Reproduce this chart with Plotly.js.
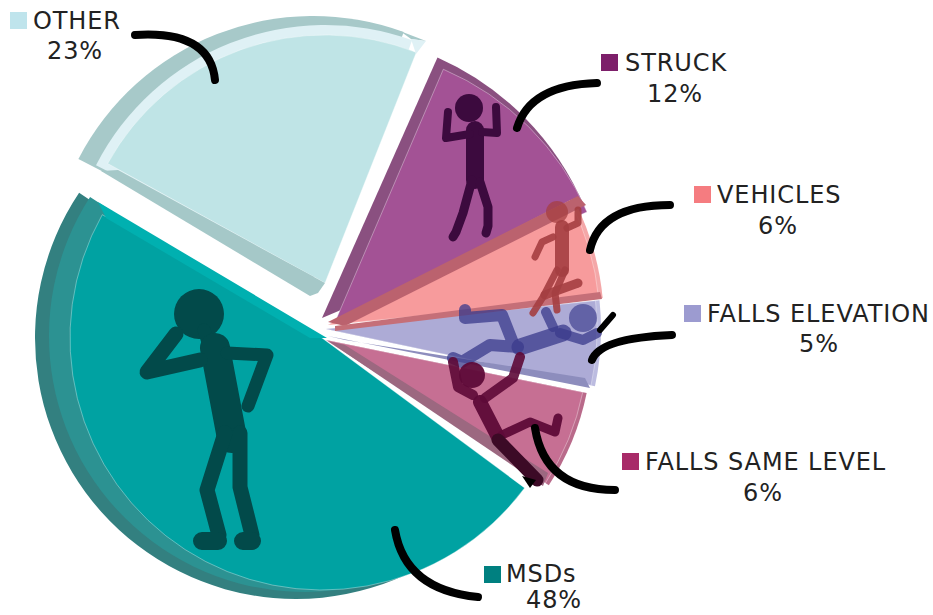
<!DOCTYPE html>
<html><head><meta charset="utf-8">
<script src="https://cdn.plot.ly/plotly-3.0.0.min.js"></script>
<style>
html,body{margin:0;padding:0;width:933px;height:615px;overflow:hidden;background:#fff}
.shapelayer path{stroke-linejoin:round;stroke-linecap:round}
.annotation-text{letter-spacing:0.9px}
</style></head><body><div id="chart"></div>
<script>
const categories=['STRUCK','VEHICLES','FALLS ELEVATION','FALLS SAME LEVEL','MSDs','OTHER'];
const shares=[12,6,5,6,48,23];
const pctLabels=['12%','6%','5%','6%','48%','23%'];
const faceColors=['#a35295','#f79b9c','#adabd6','#c66f93','#00a2a2','#bfe4e6'];
const bandColors=['#a9649c','#f4a7a8','#bcbce0','#b96a8a','#2c9292','#dff1f5'];
const rimColors=['#8a5080','#c97b7d','#9a9acb','#a0607c','#338080','#a7c9c9'];
const swatchColors=['#7d1f6a','#f57c80','#9c9bd0','#a82a68','#008080','#bfe4ec'];

const W=933,H=615;
const px=x=>x/W, py=y=>1-y/H;
const CLEAR='rgba(0,0,0,0)';
// one pie layer that shows a single slice: its apex, radius and start bearing set the false-3D view
function slice(i,color,cx,cy,r,start,edge){
  const before=shares.slice(0,i).reduce((a,b)=>a+b,0)*3.6;
  const rot=((start-before)%360+360)%360;
  return {type:'pie',labels:categories,values:shares,sort:false,direction:'clockwise',rotation:rot,
    marker:{colors:categories.map((c,k)=>k===i?color:CLEAR),
            line:{width:edge?1:0,color:categories.map((c,k)=>k===i?'rgba(255,255,255,0.35)':CLEAR)}},
    textinfo:'none',hoverinfo:'skip',showlegend:false,
    domain:{x:[px(cx-r),px(cx+r)],y:[py(cy+r),py(cy-r)]}};
}
const traces=[
  slice(5,rimColors[5],313,280,264,297.3),
  slice(5,bandColors[5],325,282,257,297),
  slice(5,faceColors[5],325,283,248,298.8,true),
  slice(4,rimColors[4],296,338,261,131),
  slice(4,bandColors[4],305,336,256,130.1),
  slice(4,faceColors[4],322,338,252,126.5,true),
  slice(0,rimColors[0],322,318,285,23.9),
  slice(0,faceColors[0],335,322,275,23.2,true),
  slice(1,bandColors[1],328,325,276,62.8),
  slice(1,faceColors[1],328,325,272,62.8,true),
  slice(3,bandColors[3],326,340,266,101.5),
  slice(3,faceColors[3],326,340,262,101.5,true),
  slice(2,bandColors[2],326,329,275,84),
  slice(2,faceColors[2],326,329,271,84,true)
];

const shapes=[];
const P=(a)=>a.map((q,i)=>(i?'L':'M')+px(q[0])+','+py(q[1])).join(' ');
function poly(pts,fill){shapes.push({type:'path',xref:'paper',yref:'paper',path:P(pts)+' Z',fillcolor:fill,line:{width:0}});}
function strokes(lines,w,col,op){shapes.push({type:'path',xref:'paper',yref:'paper',path:lines.map(P).join(' '),
  line:{color:col,width:w},fillcolor:CLEAR,opacity:op===undefined?1:op});}
function head(x,y,r,col,op){shapes.push({type:'circle',xref:'paper',yref:'paper',x0:px(x-r),x1:px(x+r),y0:py(y+r),y1:py(y-r),
  fillcolor:col,line:{width:0},opacity:op===undefined?1:op});}
function curve(a,b,c){shapes.push({type:'path',xref:'paper',yref:'paper',
  path:`M${px(a[0])},${py(a[1])} Q${px(b[0])},${py(b[1])} ${px(c[0])},${py(c[1])}`,line:{color:'#000',width:8},fillcolor:CLEAR});}

// corners and edge walls of the slices
poly([[400,31],[426,41],[411,39]],rimColors[5]);
poly([[411,39],[426,41],[416,54]],bandColors[5]);
poly([[101,171],[118,170],[325,283],[318,293],[310,296]],'#a5c8c8');
poly([[98,202],[106,218],[310,338],[327,338]],'#00b0b0');
poly([[328,322],[578,196],[586,205],[345,326]],'#bb626e');
poly([[335,326],[600,292],[602,299],[335,331]],'#c56f78');
poly([[328,336],[590,388],[585,378],[345,340]],'#8d8dbd');
poly([[328,341],[543,486],[548,473],[345,345]],'#9c6880');

// figures
const fM='#024a4a';
head(199,314,25,fM);
strokes([[[204,330],[209,345]]],13,fM);
strokes([[[215,348],[232,438]]],30,fM);
strokes([[[200,360],[147,372],[176,334]]],15,fM);
strokes([[[227,353],[267,355],[248,406]]],13,fM);
strokes([[[225,433],[207,490],[219,535]],[[240,433],[240,487],[252,535]]],15,fM);
strokes([[[202,541],[218,541]],[[243,541],[252,541]]],18,fM);
const fS='#3c0a3e';
head(469,108,14,fS);
strokes([[[475,130],[475,180]]],18,fS);
strokes([[[470,134],[446,138],[448,112]],[[482,132],[497,133],[496,107]]],8,fS);
strokes([[[472,180],[463,213],[456,232],[453,237]],[[480,182],[488,207],[488,226],[486,233]]],9,fS);
const fV='#a53f42';
head(557,212,11,fV,0.75);
strokes([[[562,227],[562,270]]],14,fV,0.9);
strokes([[[553,237],[542,242],[535,257]],[[567,228],[578,223],[578,210]]],7,fV,0.9);
strokes([[[557,270],[543,297],[533,313]],[[565,270],[555,293],[557,310]]],7,fV,0.9);
strokes([[[545,295],[578,283]]],9,fV,0.9);
const fE='#3a3a8c';
head(583,318,14,fE,0.65);
strokes([[[563,333],[520,347]]],17,fE,0.75);
strokes([[[560,333],[583,340],[597,333]],[[553,327],[546,312]]],10,fE,0.75);
strokes([[[513,343],[502,315],[465,318],[465,310]],[[518,347],[490,345],[462,362],[453,358]]],12,fE,0.75);
const fF='#5e0a38';
head(472,375,13,fF,0.95);
strokes([[[480,402],[498,437]]],14,fF,0.95);
strokes([[[473,395],[458,387],[453,362]],[[485,398],[513,378],[520,357]]],10,fF,0.9);
strokes([[[502,435],[530,422],[555,432],[558,418]]],9,fF,0.95);
strokes([[[498,440],[537,480]]],13,'#3c0a26',1);
poly([[522,476],[536,480],[530,488]],'#000');
strokes([[[600,330],[613,315]]],6,'#000');

// leader curves
curve([135,35],[210,30],[215,80]);
curve([597,83],[530,85],[517,128]);
curve([670,205],[600,205],[590,250]);
curve([672,335],[600,338],[592,360]);
curve([615,490],[545,490],[535,428]);
curve([478,597],[405,590],[395,530]);

// label blocks: [category index, swatch x, swatch y, text x, text y, pct x, pct y]
const labelPos=[[0,601,54,623,63,675,94],[1,694,186,715,195,778,226],[2,684,305,705,314,819,344],
 [3,622,453,643,462,763,493],[4,484,566,504,574,554,600],[5,10,12,31,21,75,51]];
const anns=[];
const font={family:'DejaVu Sans, Verdana, sans-serif',size:24,color:'#222'};
labelPos.forEach(l=>{
  const i=l[0];
  shapes.push({type:'rect',xref:'paper',yref:'paper',x0:px(l[1]),x1:px(l[1]+17),y0:py(l[2]+17),y1:py(l[2]),fillcolor:swatchColors[i],line:{width:0}});
  anns.push({xref:'paper',yref:'paper',x:px(l[3]),y:py(l[4]),xanchor:'left',yanchor:'middle',text:categories[i],showarrow:false,font:font});
  anns.push({xref:'paper',yref:'paper',x:px(l[5]),y:py(l[6]),xanchor:'center',yanchor:'middle',text:pctLabels[i],showarrow:false,font:font});
});

Plotly.newPlot('chart',traces,{width:W,height:H,margin:{l:0,r:0,t:0,b:0},paper_bgcolor:'#fff',showlegend:false,shapes:shapes,annotations:anns},{displayModeBar:false,staticPlot:true});
</script></body></html>
